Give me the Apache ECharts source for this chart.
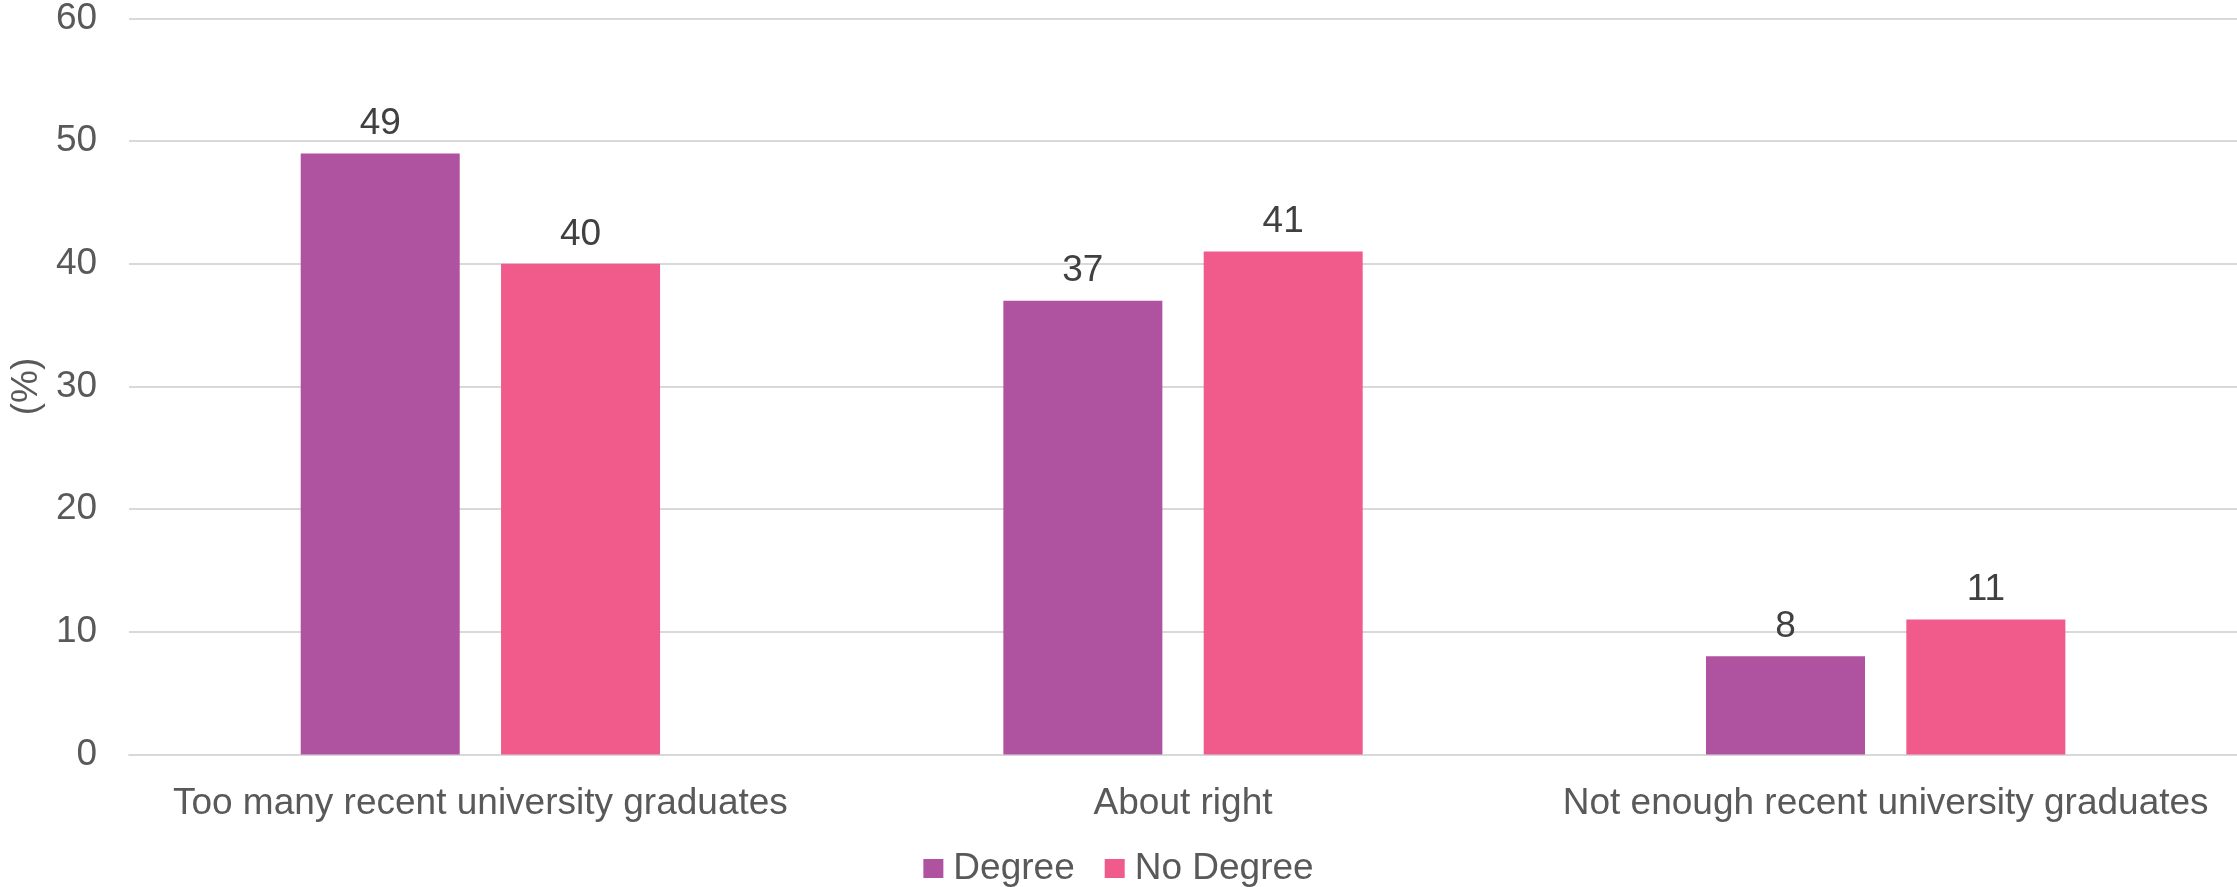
<!DOCTYPE html>
<html>
<head>
<meta charset="utf-8">
<script src="https://cdn.jsdelivr.net/npm/echarts@6/dist/echarts.min.js"></script>
<style>
html,body{margin:0;padding:0;background:#fff;}
#chart{width:2237px;height:887px;}
</style>
</head>
<body>
<div id="chart"></div>
<script>
const categories = ['Too many recent university graduates', 'About right', 'Not enough recent university graduates'];
const seriesNames = ['Degree', 'No Degree'];
const degreeValues = [49, 37, 8];
const noDegreeValues = [40, 41, 11];
const yTicks = [0, 10, 20, 30, 40, 50, 60];

const FONT = 'Liberation Sans, Arial, sans-serif';
const FS = 37;
const chart = echarts.init(document.getElementById('chart'), null, {renderer: 'canvas'});
const labelStyle = {show: true, position: 'top', distance: 11, color: '#404040', fontSize: FS, fontFamily: FONT};
chart.setOption({
  animation: false,
  backgroundColor: '#ffffff',
  grid: {left: 123, right: -4, top: 16.7, bottom: 132.5, containLabel: false},
  legend: {
    data: seriesNames,
    top: 845,
    left: 'center',
    icon: 'rect',
    itemWidth: 20,
    itemHeight: 19,
    itemGap: 30,
    textStyle: {color: '#595959', fontSize: FS, fontFamily: FONT, padding: [0, 0, 0, 5]}
  },
  xAxis: {
    type: 'category',
    data: categories,
    axisLine: {show: true, lineStyle: {color: '#D9D9D9', width: 2}},
    axisTick: {show: false},
    axisLabel: {color: '#595959', fontSize: FS, fontFamily: FONT, margin: 31, interval: 0}
  },
  yAxis: {
    type: 'value',
    min: yTicks[0],
    max: yTicks[yTicks.length - 1],
    interval: 10,
    name: '(%)',
    nameLocation: 'middle',
    nameGap: 83,
    nameRotate: 90,
    nameTextStyle: {color: '#595959', fontSize: FS, fontFamily: FONT},
    axisLine: {show: false},
    axisTick: {show: false},
    axisLabel: {color: '#595959', fontSize: FS, fontFamily: FONT, margin: 32},
    splitLine: {show: true, lineStyle: {color: '#D9D9D9', width: 2}}
  },
  series: [
    {name: seriesNames[0], type: 'bar', data: degreeValues, barWidth: 159, barGap: '26%',
     itemStyle: {color: '#AF529F'}, label: labelStyle},
    {name: seriesNames[1], type: 'bar', data: noDegreeValues, barWidth: 159, barGap: '26%',
     itemStyle: {color: '#F05B8C'}, label: labelStyle}
  ]
});
</script>
</body>
</html>
